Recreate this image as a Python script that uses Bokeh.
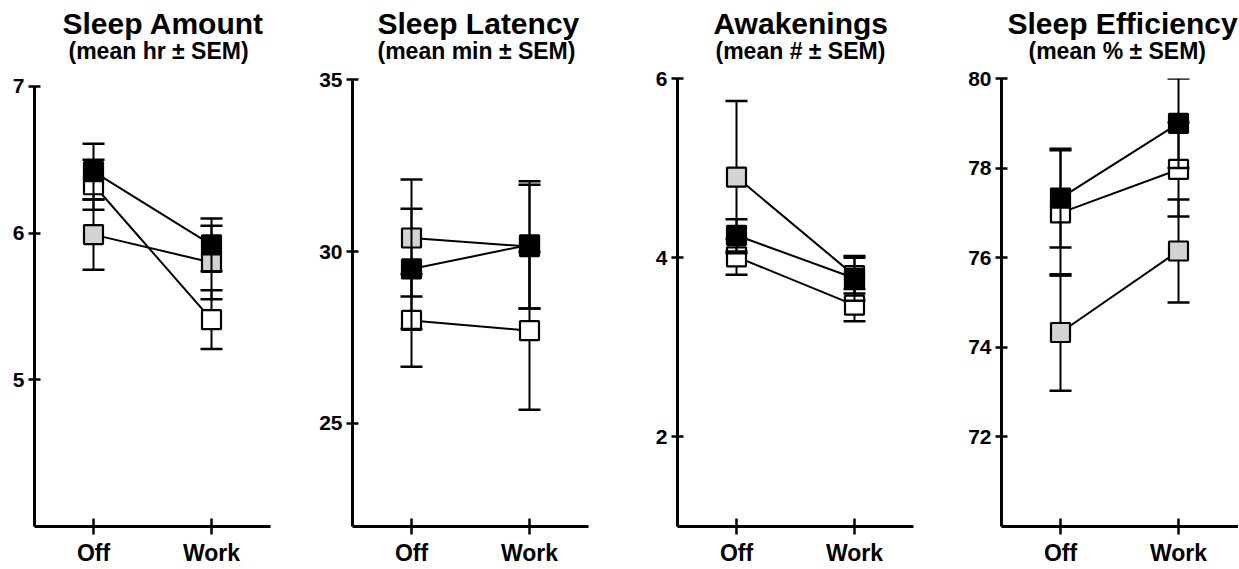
import numpy as np
from bokeh.plotting import figure
from bokeh.models import Range1d, FixedTicker, Title, ColumnDataSource
from bokeh.layouts import row
from bokeh.embed import file_html
from bokeh.resources import INLINE

# ---------------- data ----------------
conditions = ["Off", "Work"]
series_names = ["white", "grey", "black"]

amount_white = [6.33, 5.41]
amount_white_sem = [0.17, 0.20]
amount_grey = [5.99, 5.80]
amount_grey_sem = [0.24, 0.25]
amount_black = [6.42, 5.92]
amount_black_sem = [0.19, 0.18]

latency_white = [28.0, 27.7]
latency_white_sem = [1.35, 2.30]
latency_grey = [30.4, 30.15]
latency_grey_sem = [1.70, 1.80]
latency_black = [29.5, 30.2]
latency_black_sem = [1.75, 1.85]

awak_white = [4.01, 3.47]
awak_white_sem = [0.20, 0.18]
awak_grey = [4.90, 3.80]
awak_grey_sem = [0.85, 0.20]
awak_black = [4.25, 3.77]
awak_black_sem = [0.18, 0.25]

eff_white = [77.0, 77.97]
eff_white_sem = [1.40, 1.05]
eff_grey = [74.33, 76.15]
eff_grey_sem = [1.30, 1.15]
eff_black = [77.33, 79.0]
eff_black_sem = [1.10, 1.00]

titles = ["Sleep Amount", "Sleep Latency", "Awakenings", "Sleep Efficiency"]
subtitles = ["(mean hr \u00b1 SEM)", "(mean min \u00b1 SEM)",
             "(mean # \u00b1 SEM)", "(mean % \u00b1 SEM)"]
y_limits = [(4, 7), (22, 35), (1, 6), (70, 80)]
y_ticks = [[5, 6, 7], [25, 30, 35], [2, 4, 6], [72, 74, 76, 78, 80]]

panel_series = [
    [(amount_white, amount_white_sem), (amount_grey, amount_grey_sem), (amount_black, amount_black_sem)],
    [(latency_white, latency_white_sem), (latency_grey, latency_grey_sem), (latency_black, latency_black_sem)],
    [(awak_white, awak_white_sem), (awak_grey, awak_grey_sem), (awak_black, awak_black_sem)],
    [(eff_white, eff_white_sem), (eff_grey, eff_grey_sem), (eff_black, eff_black_sem)],
]

# ---------------- style / layout ----------------
FONT = "Liberation Sans"
FILLS = {"white": "white", "grey": "#d3d3d3", "black": "black"}
PX_PER_X = 118.0
FIG_H = 568
BORDER_TOP = 78
BORDER_BOTTOM = 40
layout_cfg = [
    # border_left, frame_w, border_right, top_pad_px, title_offset, sub_offset
    (34, 236, 42, 8, 28, 34),
    (40, 236, 49, 1.5, 25, 25),
    (40, 236, 48, 0, 36, 38),
    (40, 237, 0, 0, 6, 27),
]


def make_panel(i):
    bl, fw, br, pad, toff, soff = layout_cfg[i]
    x0 = -0.5
    x1 = x0 + fw / PX_PER_X
    ymin, ymax = y_limits[i]
    frame_h = FIG_H - BORDER_TOP - BORDER_BOTTOM
    y_end = ymax + pad * (ymax - ymin) / (frame_h - pad)
    p = figure(width=bl + fw + br, height=FIG_H, title=None,
               x_range=Range1d(x0, x1), y_range=Range1d(ymin, y_end),
               output_backend="svg", toolbar_location=None,
               min_border_left=bl, min_border_right=br,
               min_border_top=BORDER_TOP, min_border_bottom=BORDER_BOTTOM)
    p.add_layout(Title(text=subtitles[i], align="left", text_font=FONT,
                       text_font_size="23px", text_font_style="bold",
                       text_color="black", offset=soff, standoff=30), "above")
    p.add_layout(Title(text=titles[i], align="left", text_font=FONT,
                       text_font_size="30px", text_font_style="bold",
                       text_color="black", offset=toff, standoff=-38), "above")
    p.grid.visible = False
    p.outline_line_color = None

    for ax in (p.xaxis[0], p.yaxis[0]):
        ax.axis_label = None
        ax.axis_line_width = 3
        ax.axis_line_color = "black"
        ax.major_tick_line_width = 2.5
        ax.major_tick_line_color = "black"
        ax.minor_tick_line_color = None
        ax.major_label_text_font = FONT
        ax.major_label_text_font_style = "bold"
        ax.major_label_text_color = "black"
    xs = list(range(len(conditions)))
    p.xaxis.ticker = FixedTicker(ticks=xs)
    p.xaxis.major_label_overrides = {k: c for k, c in zip(xs, conditions)}
    p.xaxis.major_tick_in = 8
    p.xaxis.major_tick_out = 8
    p.xaxis.major_label_standoff = 5
    p.xaxis.major_label_text_font_size = "23px"
    p.yaxis.ticker = FixedTicker(ticks=y_ticks[i])
    p.yaxis.bounds = (ymin, ymax)
    p.yaxis.major_tick_in = 6
    p.yaxis.major_tick_out = 6
    p.yaxis.major_label_standoff = 4
    p.yaxis.major_label_text_font_size = "21px"

    sources = []
    for (mean, sem) in panel_series[i]:
        m = np.array(mean, dtype=float)
        s = np.array(sem, dtype=float)
        sources.append(ColumnDataSource(dict(x=xs, y=m, upper=m + s, lower=m - s)))

    for src in sources:
        p.line(x="x", y="y", source=src, line_width=2, line_color="black")

    for name, src in zip(series_names, sources):
        p.segment(x0="x", y0="lower", x1="x", y1="upper", source=src,
                  line_width=2, line_color="black")
        p.scatter(x="x", y="upper", source=src, marker="dash", size=22,
                  line_width=2.5, line_color="black")
        p.scatter(x="x", y="lower", source=src, marker="dash", size=22,
                  line_width=2.5, line_color="black")
        p.scatter(x="x", y="y", source=src, marker="square", size=19,
                  fill_color=FILLS[name], line_color="black", line_width=2.2)
    return p


panels = [make_panel(i) for i in range(4)]
layout = row(*panels)
open("out.html", "w").write(file_html(layout, INLINE))
